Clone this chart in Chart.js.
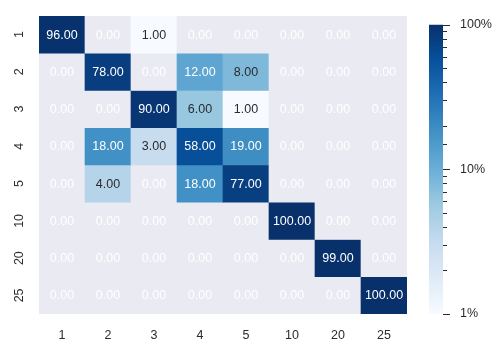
<!DOCTYPE html>
<html>
<head>
<meta charset="utf-8">
<script src="https://cdn.jsdelivr.net/npm/chart.js@4/dist/chart.umd.min.js"></script>
<style>
  html, body { margin: 0; padding: 0; background: #ffffff; }
  #wrap { position: relative; width: 497px; height: 343px; }
  #heat { position: absolute; left: 0; top: 0; }
  #cbar { position: absolute; left: 429px; top: 0; }
</style>
</head>
<body>
<div id="wrap">
  <canvas id="heat" width="497" height="343"></canvas>
  <canvas id="cbar" width="68" height="343"></canvas>
</div>
<script>
// Row and column categories
const rowLabels = ['1', '2', '3', '4', '5', '10', '20', '25'];
const colLabels = ['1', '2', '3', '4', '5', '10', '20', '25'];

// Percentages, one array per row
const row1  = [96, 0, 1, 0, 0, 0, 0, 0];
const row2  = [0, 78, 0, 12, 8, 0, 0, 0];
const row3  = [0, 0, 90, 6, 1, 0, 0, 0];
const row4  = [0, 18, 3, 58, 19, 0, 0, 0];
const row5  = [0, 4, 0, 18, 77, 0, 0, 0];
const row10 = [0, 0, 0, 0, 0, 100, 0, 0];
const row20 = [0, 0, 0, 0, 0, 0, 99, 0];
const row25 = [0, 0, 0, 0, 0, 0, 0, 100];
const rows = [row1, row2, row3, row4, row5, row10, row20, row25];

// Colour bar range (log scale) and its labelled ticks
const cbMin = 1;
const cbMax = 100;
const cbTicks = [1, 10, 100];

const FONT = "'Liberation Sans', Arial, sans-serif";
const TEXT_DARK = '#2b2b2b';
const MASK_BG = '#eaeaf2';

// "Blues" colour map
const BLUES = [
  [247, 251, 255], [222, 235, 247], [198, 219, 239], [158, 202, 225],
  [107, 174, 214], [66, 146, 198], [33, 113, 181], [8, 81, 156], [8, 48, 107]
];
function bluesRGB(t) {
  t = Math.min(1, Math.max(0, t));
  const pos = t * (BLUES.length - 1);
  const i = Math.min(BLUES.length - 2, Math.floor(pos));
  const f = pos - i;
  const a = BLUES[i], b = BLUES[i + 1];
  return [0, 1, 2].map(k => a[k] + (b[k] - a[k]) * f);
}
function norm(v) {
  return (Math.log10(v) - Math.log10(cbMin)) / (Math.log10(cbMax) - Math.log10(cbMin));
}
function cellRGB(v) { return v > 0 ? bluesRGB(norm(v)) : null; }
function rgbStr(c) { return 'rgb(' + c.map(Math.round).join(',') + ')'; }
function luminance(c) {
  const lin = c.map(x => { x /= 255; return x <= 0.03928 ? x / 12.92 : Math.pow((x + 0.055) / 1.055, 2.4); });
  return 0.2126 * lin[0] + 0.7152 * lin[1] + 0.0722 * lin[2];
}

// One floating-bar dataset per row; each bar spans [r, r+1] on the row axis
const datasets = rows.map((vals, r) => ({
  data: vals.map((v, j) => ({ x: colLabels[j], y: [r, r + 1], v: v })),
  backgroundColor: ctx => {
    const c = cellRGB(ctx.raw.v);
    return c ? rgbStr(c) : MASK_BG;
  },
  borderWidth: 0,
  grouped: false,
  barPercentage: 1,
  categoryPercentage: 1
}));

const heatPlugin = {
  id: 'heatDecor',
  beforeDatasetsDraw(chart) {
    const { ctx, chartArea: a } = chart;
    ctx.save();
    ctx.fillStyle = MASK_BG;
    ctx.fillRect(a.left, a.top, a.right - a.left, a.bottom - a.top);
    ctx.restore();
  },
  afterDatasetsDraw(chart) {
    const ctx = chart.ctx;
    ctx.save();
    ctx.font = '12.5px ' + FONT;
    ctx.textAlign = 'center';
    ctx.textBaseline = 'middle';
    chart.data.datasets.forEach((ds, r) => {
      const meta = chart.getDatasetMeta(r);
      meta.data.forEach((bar, j) => {
        const v = ds.data[j].v;
        const c = cellRGB(v);
        ctx.fillStyle = (c && luminance(c) > 0.408) ? TEXT_DARK : '#ffffff';
        const p = bar.getCenterPoint();
        ctx.fillText(v.toFixed(2), p.x, p.y + 0.5);
      });
    });
    // rotated row labels
    const y = chart.scales.y;
    ctx.fillStyle = TEXT_DARK;
    rowLabels.forEach((lab, r) => {
      const py = y.getPixelForValue(r + 0.5);
      ctx.save();
      ctx.translate(20, py);
      ctx.rotate(-Math.PI / 2);
      ctx.fillText(lab, 0, 0);
      ctx.restore();
    });
    ctx.restore();
  }
};

new Chart(document.getElementById('heat'), {
  type: 'bar',
  data: { labels: colLabels, datasets: datasets },
  options: {
    responsive: false,
    devicePixelRatio: 1,
    animation: false,
    layout: { padding: { left: 39, right: 90, top: 16, bottom: 0 } },
    plugins: { legend: { display: false }, tooltip: { enabled: false } },
    scales: {
      x: {
        type: 'category',
        offset: true,
        grid: { display: false, drawTicks: false },
        border: { display: false },
        ticks: { font: { family: FONT, size: 12.5 }, color: TEXT_DARK, padding: 14 },
        afterFit: s => { s.height = 29; }
      },
      y: {
        type: 'linear',
        display: false,
        min: 0,
        max: rowLabels.length,
        reverse: true
      }
    }
  },
  plugins: [heatPlugin]
});

// Colour bar: one floating bar spanning the full log range, filled with the colour map
function cbarFill(ctx) {
  const chart = ctx.chart;
  const a = chart.chartArea;
  if (!a || !isFinite(a.top) || !isFinite(a.bottom) || a.bottom <= a.top) {
    return rgbStr(BLUES[4]);
  }
  const g = chart.ctx.createLinearGradient(0, a.bottom, 0, a.top);
  BLUES.forEach((c, i) => g.addColorStop(i / (BLUES.length - 1), rgbStr(c)));
  return g;
}

const cbarPlugin = {
  id: 'cbarTicks',
  afterDraw(chart) {
    const { ctx, chartArea: a } = chart;
    const y = chart.scales.y;
    ctx.save();
    ctx.strokeStyle = TEXT_DARK;
    ctx.lineWidth = 1;
    y.ticks.forEach(t => {
      const major = cbTicks.includes(t.value);
      const len = major ? 7 : 4;
      const py = Math.round(y.getPixelForValue(t.value)) + 0.5;
      ctx.beginPath();
      ctx.moveTo(a.right, py);
      ctx.lineTo(a.right + len, py);
      ctx.stroke();
    });
    ctx.restore();
  }
};

const cbarChart = new Chart(document.getElementById('cbar'), {
  type: 'bar',
  data: {
    labels: [''],
    datasets: [{
      data: [[cbMin, cbMax]],
      backgroundColor: cbarFill,
      borderWidth: 0,
      inflateAmount: 0,
      barPercentage: 1,
      categoryPercentage: 1
    }]
  },
  options: {
    responsive: false,
    devicePixelRatio: 1,
    animation: false,
    layout: { padding: { left: 0, right: 0, top: 17, bottom: 29 } },
    plugins: { legend: { display: false }, tooltip: { enabled: false } },
    scales: {
      x: { display: false },
      y: {
        type: 'logarithmic',
        position: 'right',
        min: cbMin,
        max: cbMax,
        grid: { display: false, drawTicks: false },
        border: { display: false },
        ticks: {
          autoSkip: false,
          padding: 17,
          font: { family: FONT, size: 12.5 },
          color: TEXT_DARK,
          callback: v => cbTicks.includes(v) ? v + '%' : ''
        },
        afterFit: s => { s.width = 54; }
      }
    }
  },
  plugins: [cbarPlugin]
});
// re-render once the chart area is known so the gradient spans it exactly
cbarChart.update('none');
</script>
</body>
</html>
